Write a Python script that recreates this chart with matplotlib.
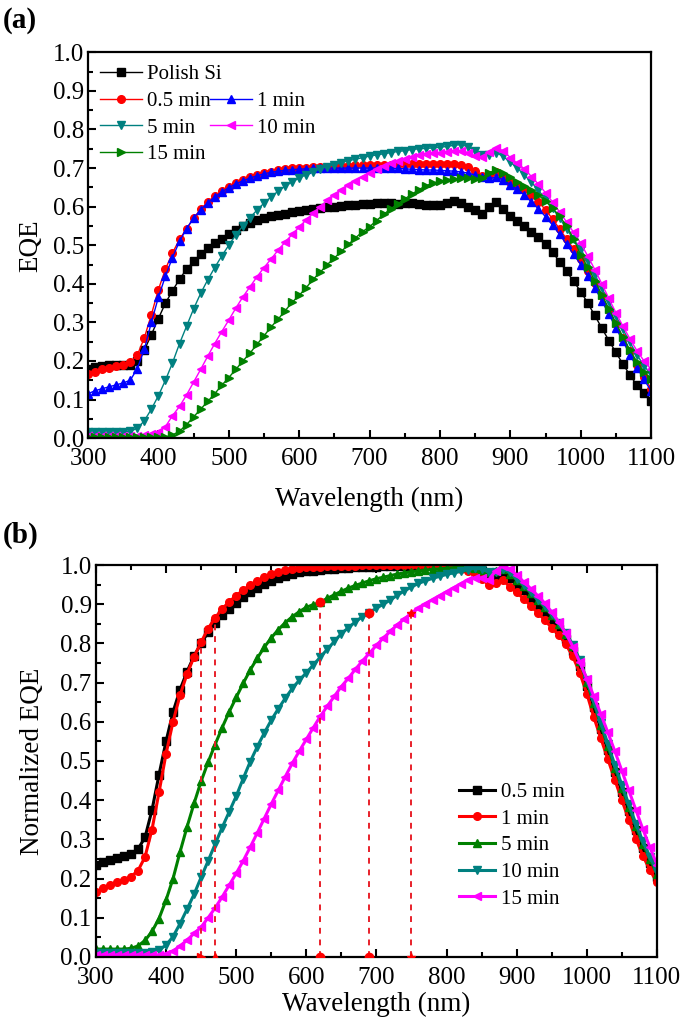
import numpy as np
import matplotlib
matplotlib.use("Agg")
import matplotlib.pyplot as plt
from matplotlib.lines import Line2D
from matplotlib.ticker import MultipleLocator, FormatStrFormatter

plt.rcParams['font.family'] = ['Liberation Serif', 'DejaVu Serif']

# wavelength grid (nm), 10 nm steps
wavelength = np.arange(300, 1101, 10)

# ---- panel (a): EQE ----
eqe_polish = [0.180, 0.185, 0.188, 0.190, 0.190, 0.190, 0.190, 0.200, 0.228, 0.268,
              0.310, 0.350, 0.382, 0.412, 0.438, 0.458, 0.476, 0.492, 0.505, 0.517,
              0.528, 0.540, 0.550, 0.558, 0.565, 0.571, 0.575, 0.579, 0.582, 0.586,
              0.589, 0.591, 0.594, 0.597, 0.599, 0.600, 0.602, 0.604, 0.605, 0.607,
              0.608, 0.609, 0.610, 0.610, 0.608, 0.610, 0.610, 0.608, 0.605, 0.604,
              0.603, 0.610, 0.614, 0.610, 0.600, 0.590, 0.580, 0.600, 0.612, 0.595,
              0.575, 0.563, 0.550, 0.535, 0.520, 0.504, 0.482, 0.457, 0.432, 0.406,
              0.380, 0.350, 0.318, 0.285, 0.253, 0.222, 0.192, 0.163, 0.137, 0.116,
              0.097]
eqe_05 = [0.165, 0.172, 0.178, 0.182, 0.186, 0.190, 0.196, 0.215, 0.260, 0.320,
          0.385, 0.438, 0.480, 0.515, 0.543, 0.570, 0.593, 0.612, 0.627, 0.640,
          0.651, 0.661, 0.669, 0.676, 0.682, 0.687, 0.691, 0.694, 0.697, 0.699,
          0.700, 0.701, 0.702, 0.703, 0.704, 0.705, 0.705, 0.706, 0.707, 0.707,
          0.708, 0.708, 0.709, 0.709, 0.710, 0.710, 0.710, 0.711, 0.711, 0.711,
          0.711, 0.711, 0.710, 0.708, 0.703, 0.692, 0.680, 0.682, 0.690, 0.680,
          0.665, 0.655, 0.645, 0.630, 0.612, 0.592, 0.568, 0.542, 0.516, 0.490,
          0.463, 0.434, 0.402, 0.368, 0.332, 0.296, 0.260, 0.225, 0.190, 0.158,
          0.128]
eqe_1 = [0.115, 0.123, 0.128, 0.133, 0.138, 0.143, 0.150, 0.180, 0.230, 0.300,
         0.365, 0.420, 0.468, 0.510, 0.543, 0.570, 0.592, 0.610, 0.625, 0.638,
         0.649, 0.659, 0.667, 0.674, 0.680, 0.685, 0.689, 0.692, 0.694, 0.696,
         0.697, 0.698, 0.699, 0.699, 0.700, 0.700, 0.700, 0.700, 0.700, 0.700,
         0.700, 0.700, 0.700, 0.699, 0.699, 0.698, 0.697, 0.696, 0.695, 0.695,
         0.694, 0.693, 0.692, 0.690, 0.687, 0.682, 0.676, 0.673, 0.676, 0.670,
         0.657, 0.645, 0.630, 0.612, 0.594, 0.574, 0.552, 0.528, 0.502, 0.476,
         0.450, 0.421, 0.390, 0.356, 0.321, 0.286, 0.251, 0.216, 0.183, 0.152,
         0.122]
eqe_5 = [0.015, 0.015, 0.015, 0.015, 0.015, 0.016, 0.018, 0.025, 0.045, 0.075,
         0.110, 0.150, 0.195, 0.245, 0.290, 0.335, 0.375, 0.410, 0.442, 0.472,
         0.500, 0.527, 0.550, 0.571, 0.591, 0.609, 0.625, 0.640, 0.653, 0.664,
         0.674, 0.683, 0.691, 0.698, 0.704, 0.709, 0.714, 0.719, 0.723, 0.727,
         0.731, 0.734, 0.737, 0.740, 0.743, 0.745, 0.748, 0.750, 0.751, 0.752,
         0.754, 0.756, 0.759, 0.761, 0.755, 0.745, 0.735, 0.734, 0.740, 0.730,
         0.715, 0.700, 0.682, 0.663, 0.642, 0.620, 0.596, 0.570, 0.542, 0.515,
         0.490, 0.458, 0.424, 0.389, 0.353, 0.317, 0.282, 0.248, 0.216, 0.187,
         0.165]
eqe_10 = [0.005, 0.005, 0.005, 0.005, 0.005, 0.005, 0.005, 0.005, 0.007, 0.010,
          0.015, 0.030, 0.058, 0.082, 0.112, 0.145, 0.178, 0.212, 0.245, 0.276,
          0.306, 0.337, 0.366, 0.392, 0.418, 0.442, 0.464, 0.487, 0.508, 0.528,
          0.547, 0.566, 0.583, 0.600, 0.616, 0.630, 0.644, 0.656, 0.667, 0.678,
          0.688, 0.697, 0.705, 0.712, 0.718, 0.724, 0.729, 0.733, 0.736, 0.738,
          0.740, 0.742, 0.744, 0.745, 0.740, 0.732, 0.728, 0.742, 0.752, 0.745,
          0.727, 0.712, 0.698, 0.678, 0.658, 0.636, 0.612, 0.586, 0.560, 0.533,
          0.505, 0.472, 0.437, 0.400, 0.362, 0.325, 0.290, 0.257, 0.226, 0.200,
          0.178]
eqe_15 = [0.003, 0.003, 0.003, 0.003, 0.003, 0.003, 0.003, 0.003, 0.003, 0.003,
          0.003, 0.003, 0.008, 0.018, 0.035, 0.055, 0.075, 0.095, 0.115, 0.137,
          0.157, 0.178, 0.200, 0.220, 0.243, 0.265, 0.288, 0.308, 0.330, 0.352,
          0.370, 0.390, 0.412, 0.430, 0.450, 0.467, 0.484, 0.502, 0.519, 0.535,
          0.548, 0.564, 0.580, 0.594, 0.607, 0.620, 0.632, 0.644, 0.654, 0.661,
          0.666, 0.670, 0.672, 0.673, 0.673, 0.672, 0.675, 0.688, 0.695, 0.688,
          0.676, 0.665, 0.654, 0.642, 0.630, 0.614, 0.596, 0.575, 0.550, 0.516,
          0.475, 0.443, 0.408, 0.372, 0.335, 0.298, 0.262, 0.228, 0.197, 0.172,
          0.152]

# ---- panel (b): normalized EQE ----
norm_05 = [0.235, 0.243, 0.248, 0.253, 0.258, 0.263, 0.275, 0.305, 0.375, 0.465,
           0.550, 0.625, 0.682, 0.728, 0.768, 0.800, 0.828, 0.852, 0.872, 0.889,
           0.904, 0.918, 0.930, 0.941, 0.951, 0.959, 0.966, 0.972, 0.977, 0.981,
           0.984, 0.986, 0.988, 0.990, 0.991, 0.992, 0.993, 0.994, 0.995, 0.996,
           0.996, 0.997, 0.997, 0.998, 0.998, 0.998, 0.999, 0.999, 0.999, 0.999,
           1.000, 1.000, 1.000, 1.000, 0.995, 0.985, 0.975, 0.975, 0.982, 0.968,
           0.950, 0.935, 0.916, 0.897, 0.877, 0.857, 0.836, 0.811, 0.781, 0.742,
           0.692, 0.637, 0.582, 0.527, 0.473, 0.422, 0.372, 0.323, 0.278, 0.240,
           0.205]
norm_1 = [0.165, 0.175, 0.183, 0.190, 0.197, 0.205, 0.220, 0.255, 0.325, 0.420,
          0.518, 0.600, 0.668, 0.722, 0.766, 0.803, 0.838, 0.865, 0.888, 0.906,
          0.922, 0.936, 0.949, 0.960, 0.969, 0.977, 0.983, 0.987, 0.990, 0.992,
          0.994, 0.995, 0.996, 0.997, 0.997, 0.998, 0.998, 0.998, 0.999, 0.999,
          0.999, 0.999, 1.000, 1.000, 1.000, 1.000, 1.000, 1.000, 1.000, 1.000,
          0.998, 0.995, 0.990, 0.985, 0.978, 0.965, 0.950, 0.955, 0.962, 0.945,
          0.930, 0.914, 0.896, 0.878, 0.860, 0.840, 0.822, 0.798, 0.767, 0.725,
          0.672, 0.612, 0.558, 0.505, 0.452, 0.400, 0.350, 0.302, 0.258, 0.222,
          0.190]
norm_5 = [0.020, 0.020, 0.020, 0.020, 0.020, 0.022, 0.028, 0.042, 0.065, 0.098,
          0.145, 0.200, 0.268, 0.332, 0.392, 0.448, 0.497, 0.542, 0.585, 0.625,
          0.662, 0.698, 0.732, 0.762, 0.790, 0.814, 0.835, 0.853, 0.868, 0.881,
          0.892, 0.899, 0.905, 0.915, 0.924, 0.933, 0.941, 0.948, 0.954, 0.960,
          0.965, 0.969, 0.973, 0.977, 0.980, 0.983, 0.985, 0.987, 0.989, 0.990,
          0.992, 0.993, 0.994, 0.995, 0.993, 0.988, 0.982, 0.985, 0.990, 0.978,
          0.962, 0.946, 0.929, 0.911, 0.892, 0.872, 0.849, 0.824, 0.794, 0.754,
          0.702, 0.647, 0.592, 0.537, 0.483, 0.432, 0.382, 0.333, 0.288, 0.250,
          0.212]
norm_10 = [0.010, 0.010, 0.010, 0.010, 0.010, 0.010, 0.010, 0.010, 0.012, 0.018,
           0.030, 0.052, 0.085, 0.122, 0.160, 0.203, 0.245, 0.288, 0.330, 0.370,
           0.410, 0.455, 0.498, 0.536, 0.571, 0.604, 0.633, 0.660, 0.685, 0.706,
           0.725, 0.745, 0.765, 0.785, 0.805, 0.825, 0.840, 0.855, 0.868, 0.878,
           0.890, 0.900, 0.911, 0.923, 0.934, 0.944, 0.953, 0.960, 0.966, 0.971,
           0.976, 0.980, 0.984, 0.988, 0.992, 0.990, 0.982, 0.982, 0.990, 0.982,
           0.965, 0.950, 0.931, 0.912, 0.895, 0.875, 0.852, 0.827, 0.797, 0.758,
           0.707, 0.652, 0.598, 0.544, 0.490, 0.439, 0.389, 0.340, 0.295, 0.256,
           0.218]
norm_15 = [0.005, 0.005, 0.005, 0.005, 0.005, 0.005, 0.005, 0.005, 0.005, 0.005,
           0.008, 0.015, 0.028, 0.043, 0.060, 0.076, 0.100, 0.125, 0.153, 0.183,
           0.213, 0.245, 0.280, 0.316, 0.353, 0.390, 0.425, 0.460, 0.494, 0.525,
           0.555, 0.585, 0.614, 0.640, 0.665, 0.690, 0.711, 0.734, 0.755, 0.775,
           0.795, 0.814, 0.831, 0.848, 0.863, 0.877, 0.890, 0.901, 0.912, 0.922,
           0.932, 0.942, 0.952, 0.962, 0.967, 0.967, 0.962, 0.985, 0.998, 0.990,
           0.975, 0.957, 0.940, 0.922, 0.903, 0.880, 0.855, 0.826, 0.792, 0.752,
           0.710, 0.665, 0.620, 0.573, 0.525, 0.475, 0.425, 0.375, 0.326, 0.280,
           0.235]

# cut-off wavelengths marked with red dashed lines
cut_wl = [450, 470, 620, 690, 750]
cut_val = [0.80, 0.862, 0.905, 0.878, 0.877]
cut_marker = ['>', '^', 'o', 'o', '*']

series_a = [("Polish Si", eqe_polish, 'black', 's'),
            ("0.5 min", eqe_05, 'red', 'o'),
            ("1 min", eqe_1, 'blue', '^'),
            ("5 min", eqe_5, '#008080', 'v'),
            ("10 min", eqe_10, 'magenta', '<'),
            ("15 min", eqe_15, 'green', '>')]

series_b = [("0.5 min", norm_05, 'black', 's'),
            ("1 min", norm_1, 'red', 'o'),
            ("5 min", norm_5, 'green', '^'),
            ("10 min", norm_10, '#008080', 'v'),
            ("15 min", norm_15, 'magenta', '<')]

fig = plt.figure(figsize=(6.85, 10.26), dpi=100)
ax1 = fig.add_axes([0.1285, 0.573, 0.822, 0.376])
ax2 = fig.add_axes([0.140, 0.0673, 0.819, 0.382])


def style_axis(ax, ylabel, top_ticks, xpad, ypad):
    ax.set_xlim(300, 1100)
    ax.set_ylim(0, 1.0)
    ax.xaxis.set_major_locator(MultipleLocator(100))
    ax.xaxis.set_minor_locator(MultipleLocator(50))
    ax.yaxis.set_major_locator(MultipleLocator(0.1))
    ax.yaxis.set_minor_locator(MultipleLocator(0.05))
    ax.yaxis.set_major_formatter(FormatStrFormatter('%.1f'))
    ax.tick_params(which='both', direction='in', top=top_ticks, right=False,
                   width=1.5, labelsize=18)
    ax.tick_params(axis='x', pad=7)
    ax.tick_params(axis='y', pad=3)
    ax.tick_params(which='major', length=6)
    ax.tick_params(which='minor', length=3.5)
    for s in ax.spines.values():
        s.set_linewidth(1.6)
    ax.set_xlabel("Wavelength (nm)", fontsize=19.5, labelpad=xpad)
    ax.set_ylabel(ylabel, fontsize=19.5, labelpad=ypad)


# panel (a)
handles = {}
for label, vals, color, mk in series_a:
    line, = ax1.plot(wavelength, vals, color=color, marker=mk, markersize=5.5,
                     linewidth=1.0, label=label)
    handles[label] = line
style_axis(ax1, "EQE", False, 12, 7)

leg_kw = dict(frameon=False, fontsize=15, handlelength=2.0, handletextpad=0.25,
              labelspacing=0.33, borderpad=0, borderaxespad=0, numpoints=1)
leg1 = ax1.legend([handles["Polish Si"]], ["Polish Si"], loc='upper left',
                  bbox_to_anchor=(0.021, 0.968), **leg_kw)
ax1.add_artist(leg1)
blank = Line2D([], [], linestyle='none')
ax1.legend([handles["0.5 min"], handles["5 min"], handles["15 min"],
            handles["1 min"], handles["10 min"], blank],
           ["0.5 min", "5 min", "15 min", "1 min", "10 min", ""],
           ncol=2, loc='upper left', bbox_to_anchor=(0.021, 0.898),
           columnspacing=0.0, **leg_kw)

# panel (b)
for label, vals, color, mk in series_b:
    ax2.plot(wavelength, vals, color=color, marker=mk, markersize=5.5,
             linewidth=2.2, label=label)
ax2.vlines(cut_wl, 0, cut_val, colors='#e8202a', linestyles=(0, (3, 3)),
           linewidth=1.4, zorder=5)
for w, v, mk in zip(cut_wl, cut_val, cut_marker):
    ax2.plot([w], [0], marker=mk, color='red', markersize=6, zorder=6)
    if w >= 620:
        ax2.plot([w], [v], marker=mk, color='red', markersize=6, zorder=6)
style_axis(ax2, "Normalized EQE", True, 2, 11)
ax2.legend(loc='upper left', bbox_to_anchor=(0.613, 0.493), frameon=False,
           fontsize=15, handlelength=1.75, handletextpad=0.3, labelspacing=0.34,
           numpoints=1)

fig.text(0.004, 0.993, "(a)", fontsize=21, fontweight='bold', va='top')
fig.text(0.004, 0.492, "(b)", fontsize=21, fontweight='bold', va='top')

fig.savefig("out.png", dpi=100)
